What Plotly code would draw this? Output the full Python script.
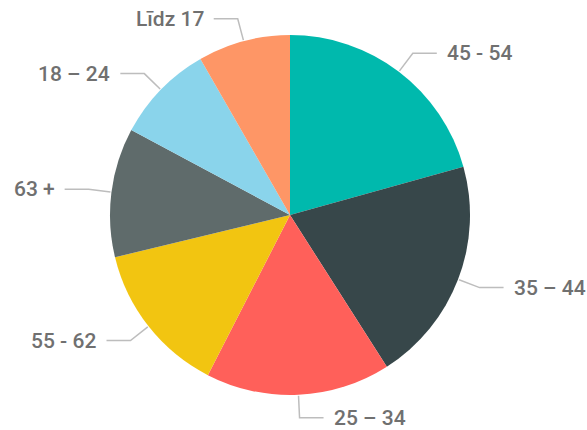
import math
import plotly.graph_objects as go

labels = ["45 - 54", "35 – 44", "25 – 34", "55 - 62", "63 +", "18 – 24", "Līdz 17"]
values = [20.7, 20.3, 16.6, 13.7, 11.6, 8.9, 8.3]
colors = ["#00B9AD", "#37474A", "#FF605A", "#F2C511", "#5F6B6B", "#8AD4EB", "#FE9666"]

W, H = 587, 430
CX, CY, R = 290, 215, 180

fig = go.Figure(go.Pie(
    labels=labels, values=values, sort=False, direction="clockwise", rotation=0,
    marker=dict(colors=colors, line=dict(width=0)), textinfo="none",
    hoverinfo="label+percent", showlegend=False,
    domain=dict(x=[(CX - R) / W, (CX + R) / W], y=[(H - CY - R) / H, (H - CY + R) / H]),
))

def px(x):
    return x / W

def py(y):
    return 1 - y / H

total = sum(values)
cum = 0
shapes, annos = [], []
for lab, v in zip(labels, values):
    mid = (cum + v / 2) / total * 2 * math.pi
    cum += v
    s, c = math.sin(mid), math.cos(mid)
    x0, y0 = CX + (R + 1) * s, CY - (R + 1) * c
    x1, y1 = CX + 203 * s, CY - 203 * c
    d = 1 if s >= 0 else -1
    x2 = x1 + 24 * d
    path = f"M {px(x0)} {py(y0)} L {px(x1)} {py(y1)} L {px(x2)} {py(y1)}"
    shapes.append(dict(type="path", xref="paper", yref="paper", path=path,
                       line=dict(color="#BDBDBD", width=1.5)))
    annos.append(dict(x=px(x2 + 8 * d), y=py(y1), xref="paper", yref="paper",
                      text=lab, showarrow=False,
                      xanchor="left" if d > 0 else "right", yanchor="middle",
                      font=dict(family="Roboto", size=21, weight=500, color="#707070")))

fig.update_layout(width=W, height=H, margin=dict(l=0, r=0, t=0, b=0),
                  paper_bgcolor="white", plot_bgcolor="white",
                  shapes=shapes, annotations=annos)
fig.write_html("out.html", config={"displayModeBar": False},
               post_script="document.body.style.margin='0px';document.body.style.overflow='hidden';")
